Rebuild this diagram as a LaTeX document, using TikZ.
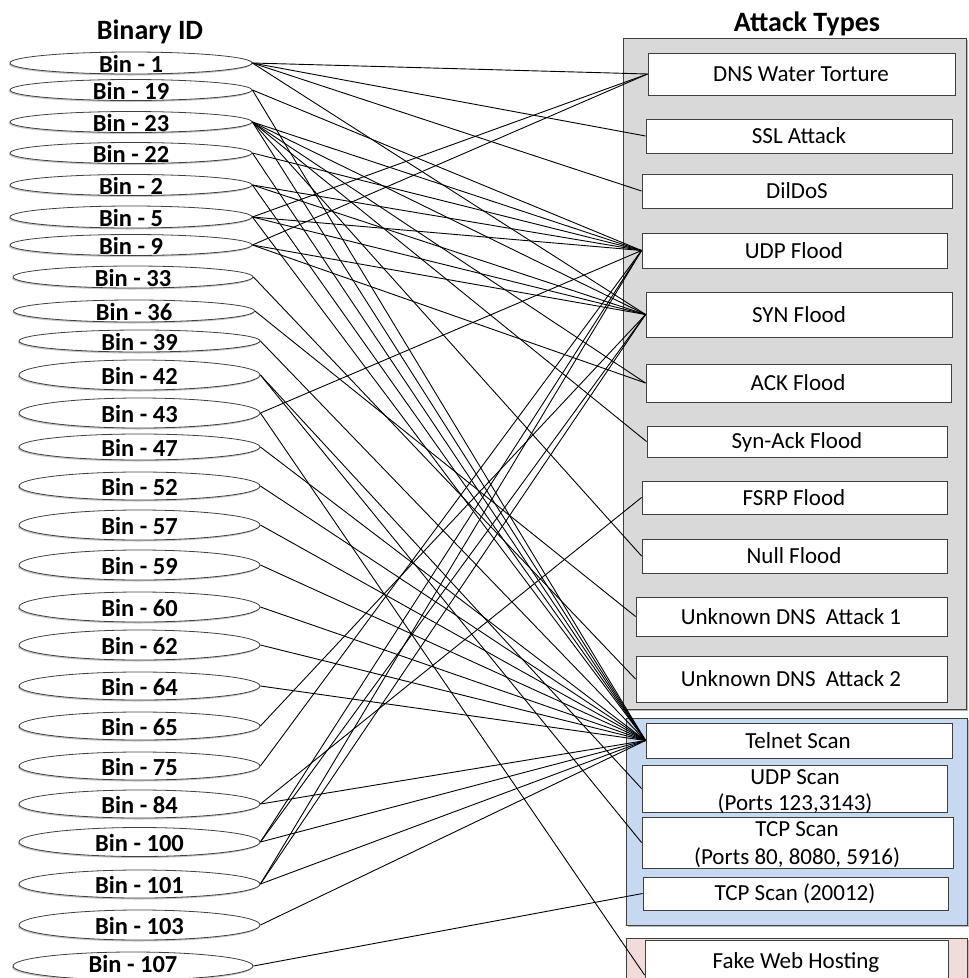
\documentclass[tikz,border=0pt]{standalone}
\usepackage{fontspec}
\setmainfont{Carlito}
\usetikzlibrary{shapes.geometric,shadows}
\definecolor{graybg}{HTML}{D9D9D9}
\definecolor{bluebg}{HTML}{C6D9F1}
\definecolor{pinkbg}{HTML}{F2DCDB}
\definecolor{edgegray}{HTML}{404040}
\tikzset{
  binshape/.style={draw=edgegray, ellipse, inner sep=0pt, line width=0.8pt, fill=white,
    drop shadow={shadow xshift=-1pt, shadow yshift=-1.5pt, fill=black!50, opacity=0.45}},
  bintext/.style={font=\bfseries\fontsize{24.5}{24.5}\selectfont, inner sep=0pt, text=black},
  atkbox/.style={draw=edgegray, fill=white, line width=0.9pt, inner sep=0pt, rectangle},
  atktext/.style={font=\fontsize{23}{23}\selectfont, inner sep=0pt, text=black},
  titletext/.style={font=\bfseries\fontsize{28}{28}\selectfont, inner sep=0pt},
  group/.style={draw=edgegray, line width=0.9pt,
    drop shadow={shadow xshift=1.5pt, shadow yshift=-1.5pt, fill=black!55, opacity=0.5}},
  link/.style={line width=0.9pt, black}
}
\newcommand{\mkbin}[6]{%
  \node[binshape, minimum width=#4pt, minimum height=#5pt] (b#1) at (#2,#3) {};
  \node[bintext] (b#1t) at (#2,#3+#6) {Bin - #1}; }
\newcommand{\mkatk}[5]{%
  \node[atkbox, minimum width=#4pt-#2pt, minimum height=#5pt-#3pt] (#1) at ({(#2+#4)/2},{(#3+#5)/2}) {};}
\begin{document}
\begin{tikzpicture}[x=1pt,y=-1pt]
\useasboundingbox (0,0) rectangle (969,978);
\clip (0,0) rectangle (969,978);
% containers
\path[group, fill=graybg] (623,38) rectangle (966,709);
\path[group, fill=bluebg] (626,718) rectangle (967,925);
\path[group, fill=pinkbg] (626,938) rectangle (967,1000);
% titles
\node[titletext] (tbin) at (150,32) {Binary ID};
\node[titletext] (tatk) at (807,24) {Attack Types};
% binaries
\mkbin{1}{131}{63}{242}{22}{1}
\mkbin{19}{131}{90}{242}{21}{1}
\mkbin{23}{131}{122}{242}{21}{1}
\mkbin{22}{131}{153}{242}{21}{1}
\mkbin{2}{131}{185}{242}{21}{1}
\mkbin{5}{131}{217}{242}{22}{1}
\mkbin{9}{131}{245}{242}{21}{1}
\mkbin{33}{133}{277}{240}{22}{1}
\mkbin{36}{134}{311}{241}{22}{1}
\mkbin{39}{139.5}{341}{241}{22}{1}
\mkbin{42}{139.5}{375}{241}{30}{1}
\mkbin{43}{139.5}{413}{241}{30}{1}
\mkbin{47}{139.5}{447}{241}{26}{1}
\mkbin{52}{139.5}{486}{241}{28}{1}
\mkbin{57}{139.5}{525}{241}{30}{1}
\mkbin{59}{139.5}{565}{241}{30}{1}
\mkbin{60}{139.5}{607}{241}{30}{1}
\mkbin{62}{139.5}{645}{241}{30}{1}
\mkbin{64}{139.5}{686}{241}{28}{1}
\mkbin{65}{139.5}{726}{241}{28}{1}
\mkbin{75}{139.5}{766}{241}{28}{1}
\mkbin{84}{139.5}{804}{241}{28}{1}
\mkbin{100}{139.5}{842}{241}{29}{1}
\mkbin{101}{139.5}{884}{241}{28}{1}
\mkbin{103}{139.5}{925}{241}{30}{1}
\mkbin{107}{133}{966}{240}{28}{-2}
% attack boxes
\mkatk{dns}{648}{53}{955}{95}
\mkatk{ssl}{646}{119}{952}{153}
\mkatk{dil}{642}{174}{952}{208}
\mkatk{udp}{642}{233}{947}{268}
\mkatk{syn}{646}{292}{952}{337}
\mkatk{ack}{646}{364}{951}{402}
\mkatk{synack}{647}{426}{947}{457}
\mkatk{fsrp}{642}{481}{947}{514}
\mkatk{null}{642}{539}{947}{573}
\mkatk{unka}{636}{597}{947}{636}
\mkatk{unkb}{636}{656}{947}{702}
\mkatk{telnet}{646}{723}{952}{758}
\mkatk{udps}{642}{765}{947}{812}
\mkatk{tcps}{642}{817}{953}{868}
\mkatk{tcpt}{643}{877}{948}{910}
\mkatk{fake}{645}{940}{948}{1010}
% attack labels
\node[atktext] (dnst) at (801,74) {DNS Water Torture};
\node[atktext] (sslt) at (799,136) {SSL Attack};
\node[atktext] (dilt) at (797,191) {DilDoS};
\node[atktext] (udpt) at (794,251) {UDP Flood};
\node[atktext] (synt) at (799,315) {SYN Flood};
\node[atktext] (ackt) at (798,383) {ACK Flood};
\node[atktext] (synackt) at (797,442) {Syn-Ack Flood};
\node[atktext] (fsrpt) at (794,498) {FSRP Flood};
\node[atktext] (nullt) at (794,556) {Null Flood};
\node[atktext] (unkat) at (791,617) {Unknown DNS\ \ Attack 1};
\node[atktext] (unkbt) at (791,679) {Unknown DNS\ \ Attack 2};
\node[atktext] (telnett) at (798,741) {Telnet Scan};
\node[atktext] (udpsa) at (795,777) {UDP Scan};
\node[atktext] (udpsb) at (795,804) {(Ports 123,3143)};
\node[atktext] (tcpsa) at (797,829) {TCP Scan};
\node[atktext] (tcpsb) at (797,858) {(Ports 80, 8080, 5916)};
\node[atktext] (tcptt) at (795,894) {TCP Scan (20012)};
\node[atktext] (faket) at (796,962) {Fake Web Hosting};
% links
\foreach \src/\tgt in {1/dns,1/ssl,1/dil,1/syn,
  19/udp,19/telnet,
  23/udp,23/syn,23/ack,23/synack,23/null,23/telnet,
  22/udp,22/telnet,
  2/udp,2/syn,2/telnet,
  5/dns,5/udp,5/syn,5/telnet,
  9/dns,9/ack,9/syn,
  33/unkb,36/unka,39/telnet,
  42/udps,42/tcps,43/udp,43/fake,
  47/telnet,52/telnet,57/telnet,59/telnet,60/telnet,62/telnet,64/telnet,
  65/syn,75/udp,84/fsrp,84/telnet,
  100/udp,100/syn,100/telnet,
  101/udp,101/syn,101/telnet,
  103/telnet,107/tcpt}
  \draw[link] (b\src.east) -- (\tgt.west);
\end{tikzpicture}
\end{document}
